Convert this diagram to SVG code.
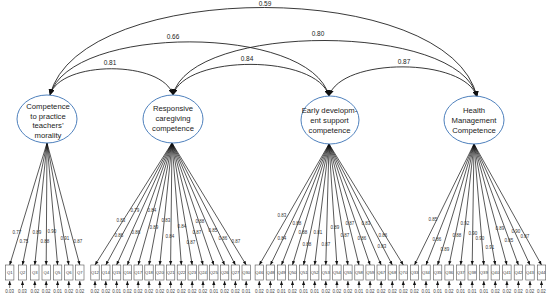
<svg xmlns="http://www.w3.org/2000/svg" width="550" height="298" viewBox="0 0 550 298">
<style>
.lat{fill:#fff;stroke:#4f81bd;stroke-width:1}
.lt{font-family:"Liberation Sans",Arial,sans-serif;font-size:7.7px;fill:#222;text-anchor:middle}
.cov{fill:none;stroke:#222;stroke-width:0.9}
.cl{font-family:"Liberation Sans",Arial,sans-serif;font-size:6.5px;fill:#222;text-anchor:middle}
.ld{stroke:#111;stroke-width:0.7;fill:none}
.ll{font-family:"Liberation Sans",Arial,sans-serif;font-size:4.5px;fill:#333;text-anchor:middle}
.bx{fill:#fff;stroke:#555;stroke-width:0.6}
.bl{font-family:"Liberation Sans",Arial,sans-serif;font-size:4.2px;fill:#333;text-anchor:middle}
.er{stroke:#111;stroke-width:0.6}
.el{font-family:"Liberation Sans",Arial,sans-serif;font-size:4.5px;fill:#444;text-anchor:middle}
</style>
<defs>
<marker id="ah" markerUnits="userSpaceOnUse" markerWidth="6" markerHeight="6" refX="5" refY="2.5" orient="auto-start-reverse" viewBox="0 0 5 5"><path d="M0,0 L5,2.5 L0,5 z" fill="#111"/></marker>
<marker id="sa" markerUnits="userSpaceOnUse" markerWidth="4" markerHeight="4" refX="4" refY="1.6" orient="auto" viewBox="0 0 4 3.2"><path d="M0,0 L4,1.6 L0,3.2 z" fill="#111"/></marker>
</defs>

<g id="connectors">
<g id="covariances">
<path class="cov" d="M50,95 C60,60 163,60 173,95" marker-start="url(#ah)" marker-end="url(#ah)"/>
<path class="cov" d="M50,95 C70,24 310,24 329,96" marker-start="url(#ah)" marker-end="url(#ah)"/>
<path class="cov" d="M50,95 C80,-22 450,-22 477,97" marker-start="url(#ah)" marker-end="url(#ah)"/>
<path class="cov" d="M173,95 C185,54 317,54 329,96" marker-start="url(#ah)" marker-end="url(#ah)"/>
<path class="cov" d="M173,95 C190,22 460,22 477,97" marker-start="url(#ah)" marker-end="url(#ah)"/>
<path class="cov" d="M329,96 C341,57 465,57 477,97" marker-start="url(#ah)" marker-end="url(#ah)"/>
</g>
<g id="loadings">
<line class="ld" x1="47" y1="143" x2="9.7" y2="265" marker-end="url(#sa)"/>
<line class="ld" x1="47" y1="143" x2="22.5" y2="265" marker-end="url(#sa)"/>
<line class="ld" x1="47" y1="143" x2="34.8" y2="265" marker-end="url(#sa)"/>
<line class="ld" x1="47" y1="143" x2="46.2" y2="265" marker-end="url(#sa)"/>
<line class="ld" x1="47" y1="143" x2="57.6" y2="265" marker-end="url(#sa)"/>
<line class="ld" x1="47" y1="143" x2="68.8" y2="265" marker-end="url(#sa)"/>
<line class="ld" x1="47" y1="143" x2="79.8" y2="265" marker-end="url(#sa)"/>
<line class="ld" x1="172" y1="143" x2="95" y2="265" marker-end="url(#sa)"/>
<line class="ld" x1="172" y1="143" x2="105.8" y2="265" marker-end="url(#sa)"/>
<line class="ld" x1="172" y1="143" x2="116.6" y2="265" marker-end="url(#sa)"/>
<line class="ld" x1="172" y1="143" x2="127.4" y2="265" marker-end="url(#sa)"/>
<line class="ld" x1="172" y1="143" x2="138.2" y2="265" marker-end="url(#sa)"/>
<line class="ld" x1="172" y1="143" x2="149" y2="265" marker-end="url(#sa)"/>
<line class="ld" x1="172" y1="143" x2="159.8" y2="265" marker-end="url(#sa)"/>
<line class="ld" x1="172" y1="143" x2="170.6" y2="265" marker-end="url(#sa)"/>
<line class="ld" x1="172" y1="143" x2="181.4" y2="265" marker-end="url(#sa)"/>
<line class="ld" x1="172" y1="143" x2="192.2" y2="265" marker-end="url(#sa)"/>
<line class="ld" x1="172" y1="143" x2="203" y2="265" marker-end="url(#sa)"/>
<line class="ld" x1="172" y1="143" x2="213.8" y2="265" marker-end="url(#sa)"/>
<line class="ld" x1="172" y1="143" x2="224.6" y2="265" marker-end="url(#sa)"/>
<line class="ld" x1="172" y1="143" x2="235.4" y2="265" marker-end="url(#sa)"/>
<line class="ld" x1="172" y1="143" x2="246.2" y2="265" marker-end="url(#sa)"/>
<line class="ld" x1="329" y1="144" x2="259.3" y2="265" marker-end="url(#sa)"/>
<line class="ld" x1="329" y1="144" x2="270.4" y2="265" marker-end="url(#sa)"/>
<line class="ld" x1="329" y1="144" x2="281.5" y2="265" marker-end="url(#sa)"/>
<line class="ld" x1="329" y1="144" x2="292.5" y2="265" marker-end="url(#sa)"/>
<line class="ld" x1="329" y1="144" x2="303.6" y2="265" marker-end="url(#sa)"/>
<line class="ld" x1="329" y1="144" x2="314.7" y2="265" marker-end="url(#sa)"/>
<line class="ld" x1="329" y1="144" x2="325.8" y2="265" marker-end="url(#sa)"/>
<line class="ld" x1="329" y1="144" x2="336.9" y2="265" marker-end="url(#sa)"/>
<line class="ld" x1="329" y1="144" x2="347.9" y2="265" marker-end="url(#sa)"/>
<line class="ld" x1="329" y1="144" x2="359" y2="265" marker-end="url(#sa)"/>
<line class="ld" x1="329" y1="144" x2="370.1" y2="265" marker-end="url(#sa)"/>
<line class="ld" x1="329" y1="144" x2="381.2" y2="265" marker-end="url(#sa)"/>
<line class="ld" x1="329" y1="144" x2="392.3" y2="265" marker-end="url(#sa)"/>
<line class="ld" x1="329" y1="144" x2="403.3" y2="265" marker-end="url(#sa)"/>
<line class="ld" x1="474" y1="144" x2="414.5" y2="265" marker-end="url(#sa)"/>
<line class="ld" x1="474" y1="144" x2="426" y2="265" marker-end="url(#sa)"/>
<line class="ld" x1="474" y1="144" x2="437.6" y2="265" marker-end="url(#sa)"/>
<line class="ld" x1="474" y1="144" x2="449.1" y2="265" marker-end="url(#sa)"/>
<line class="ld" x1="474" y1="144" x2="460.7" y2="265" marker-end="url(#sa)"/>
<line class="ld" x1="474" y1="144" x2="472.2" y2="265" marker-end="url(#sa)"/>
<line class="ld" x1="474" y1="144" x2="483.8" y2="265" marker-end="url(#sa)"/>
<line class="ld" x1="474" y1="144" x2="495.3" y2="265" marker-end="url(#sa)"/>
<line class="ld" x1="474" y1="144" x2="506.9" y2="265" marker-end="url(#sa)"/>
<line class="ld" x1="474" y1="144" x2="518.4" y2="265" marker-end="url(#sa)"/>
<line class="ld" x1="474" y1="144" x2="530" y2="265" marker-end="url(#sa)"/>
<line class="ld" x1="474" y1="144" x2="541.5" y2="265" marker-end="url(#sa)"/>
</g>
<g id="errors">
<line class="er" x1="9.7" y1="288" x2="9.7" y2="281" marker-end="url(#sa)"/>
<line class="er" x1="22.5" y1="288" x2="22.5" y2="281" marker-end="url(#sa)"/>
<line class="er" x1="34.8" y1="288" x2="34.8" y2="281" marker-end="url(#sa)"/>
<line class="er" x1="46.2" y1="288" x2="46.2" y2="281" marker-end="url(#sa)"/>
<line class="er" x1="57.6" y1="288" x2="57.6" y2="281" marker-end="url(#sa)"/>
<line class="er" x1="68.8" y1="288" x2="68.8" y2="281" marker-end="url(#sa)"/>
<line class="er" x1="79.8" y1="288" x2="79.8" y2="281" marker-end="url(#sa)"/>
<line class="er" x1="95" y1="288" x2="95" y2="281" marker-end="url(#sa)"/>
<line class="er" x1="105.8" y1="288" x2="105.8" y2="281" marker-end="url(#sa)"/>
<line class="er" x1="116.6" y1="288" x2="116.6" y2="281" marker-end="url(#sa)"/>
<line class="er" x1="127.4" y1="288" x2="127.4" y2="281" marker-end="url(#sa)"/>
<line class="er" x1="138.2" y1="288" x2="138.2" y2="281" marker-end="url(#sa)"/>
<line class="er" x1="149" y1="288" x2="149" y2="281" marker-end="url(#sa)"/>
<line class="er" x1="159.8" y1="288" x2="159.8" y2="281" marker-end="url(#sa)"/>
<line class="er" x1="170.6" y1="288" x2="170.6" y2="281" marker-end="url(#sa)"/>
<line class="er" x1="181.4" y1="288" x2="181.4" y2="281" marker-end="url(#sa)"/>
<line class="er" x1="192.2" y1="288" x2="192.2" y2="281" marker-end="url(#sa)"/>
<line class="er" x1="203" y1="288" x2="203" y2="281" marker-end="url(#sa)"/>
<line class="er" x1="213.8" y1="288" x2="213.8" y2="281" marker-end="url(#sa)"/>
<line class="er" x1="224.6" y1="288" x2="224.6" y2="281" marker-end="url(#sa)"/>
<line class="er" x1="235.4" y1="288" x2="235.4" y2="281" marker-end="url(#sa)"/>
<line class="er" x1="246.2" y1="288" x2="246.2" y2="281" marker-end="url(#sa)"/>
<line class="er" x1="259.3" y1="288" x2="259.3" y2="281" marker-end="url(#sa)"/>
<line class="er" x1="270.4" y1="288" x2="270.4" y2="281" marker-end="url(#sa)"/>
<line class="er" x1="281.5" y1="288" x2="281.5" y2="281" marker-end="url(#sa)"/>
<line class="er" x1="292.5" y1="288" x2="292.5" y2="281" marker-end="url(#sa)"/>
<line class="er" x1="303.6" y1="288" x2="303.6" y2="281" marker-end="url(#sa)"/>
<line class="er" x1="314.7" y1="288" x2="314.7" y2="281" marker-end="url(#sa)"/>
<line class="er" x1="325.8" y1="288" x2="325.8" y2="281" marker-end="url(#sa)"/>
<line class="er" x1="336.9" y1="288" x2="336.9" y2="281" marker-end="url(#sa)"/>
<line class="er" x1="347.9" y1="288" x2="347.9" y2="281" marker-end="url(#sa)"/>
<line class="er" x1="359" y1="288" x2="359" y2="281" marker-end="url(#sa)"/>
<line class="er" x1="370.1" y1="288" x2="370.1" y2="281" marker-end="url(#sa)"/>
<line class="er" x1="381.2" y1="288" x2="381.2" y2="281" marker-end="url(#sa)"/>
<line class="er" x1="392.3" y1="288" x2="392.3" y2="281" marker-end="url(#sa)"/>
<line class="er" x1="403.3" y1="288" x2="403.3" y2="281" marker-end="url(#sa)"/>
<line class="er" x1="414.5" y1="288" x2="414.5" y2="281" marker-end="url(#sa)"/>
<line class="er" x1="426" y1="288" x2="426" y2="281" marker-end="url(#sa)"/>
<line class="er" x1="437.6" y1="288" x2="437.6" y2="281" marker-end="url(#sa)"/>
<line class="er" x1="449.1" y1="288" x2="449.1" y2="281" marker-end="url(#sa)"/>
<line class="er" x1="460.7" y1="288" x2="460.7" y2="281" marker-end="url(#sa)"/>
<line class="er" x1="472.2" y1="288" x2="472.2" y2="281" marker-end="url(#sa)"/>
<line class="er" x1="483.8" y1="288" x2="483.8" y2="281" marker-end="url(#sa)"/>
<line class="er" x1="495.3" y1="288" x2="495.3" y2="281" marker-end="url(#sa)"/>
<line class="er" x1="506.9" y1="288" x2="506.9" y2="281" marker-end="url(#sa)"/>
<line class="er" x1="518.4" y1="288" x2="518.4" y2="281" marker-end="url(#sa)"/>
<line class="er" x1="530" y1="288" x2="530" y2="281" marker-end="url(#sa)"/>
<line class="er" x1="541.5" y1="288" x2="541.5" y2="281" marker-end="url(#sa)"/>
</g>
</g>

<g id="connector-labels">
<text class="cl" x="110" y="65">0.81</text>
<text class="cl" x="173" y="39">0.66</text>
<text class="cl" x="265" y="5.5">0.59</text>
<text class="cl" x="247" y="61">0.84</text>
<text class="cl" x="318" y="36">0.80</text>
<text class="cl" x="404" y="64">0.87</text>

<text class="ll" x="17" y="234">0.77</text>
<text class="ll" x="24" y="243">0.75</text>
<text class="ll" x="37" y="234">0.89</text>
<text class="ll" x="45" y="243">0.88</text>
<text class="ll" x="52" y="233">0.90</text>
<text class="ll" x="65" y="240">0.91</text>
<text class="ll" x="78" y="243">0.87</text>

<text class="ll" x="121" y="222">0.83</text>
<text class="ll" x="135" y="212">0.79</text>
<text class="ll" x="152" y="212">0.84</text>
<text class="ll" x="119" y="237">0.86</text>
<text class="ll" x="136" y="234">0.86</text>
<text class="ll" x="154" y="229">0.89</text>
<text class="ll" x="166" y="222">0.83</text>
<text class="ll" x="170" y="238">0.84</text>
<text class="ll" x="182" y="228">0.84</text>
<text class="ll" x="191" y="244">0.87</text>
<text class="ll" x="197" y="234">0.87</text>
<text class="ll" x="200" y="223">0.88</text>
<text class="ll" x="213" y="232">0.85</text>
<text class="ll" x="223" y="240">0.86</text>
<text class="ll" x="236" y="243">0.87</text>

<text class="ll" x="282" y="217">0.83</text>
<text class="ll" x="282" y="240">0.84</text>
<text class="ll" x="297" y="225">0.88</text>
<text class="ll" x="303" y="234">0.88</text>
<text class="ll" x="307" y="246">0.88</text>
<text class="ll" x="318" y="234">0.81</text>
<text class="ll" x="326" y="246">0.87</text>
<text class="ll" x="335" y="229">0.89</text>
<text class="ll" x="345" y="237">0.87</text>
<text class="ll" x="350" y="225">0.87</text>
<text class="ll" x="362" y="240">0.86</text>
<text class="ll" x="366" y="225">0.83</text>
<text class="ll" x="383" y="237">0.86</text>
<text class="ll" x="382" y="248">0.83</text>

<text class="ll" x="433" y="221">0.85</text>
<text class="ll" x="437" y="241">0.86</text>
<text class="ll" x="445" y="251">0.89</text>
<text class="ll" x="457" y="237">0.88</text>
<text class="ll" x="465" y="225">0.92</text>
<text class="ll" x="473" y="235">0.90</text>
<text class="ll" x="480" y="240">0.90</text>
<text class="ll" x="490" y="249">0.91</text>
<text class="ll" x="500" y="230">0.89</text>
<text class="ll" x="509" y="242">0.85</text>
<text class="ll" x="516" y="233">0.90</text>
<text class="ll" x="525" y="238">0.87</text>

<text class="el" x="9.7" y="293">0.03</text>
<text class="el" x="22.5" y="293">0.03</text>
<text class="el" x="34.8" y="293">0.02</text>
<text class="el" x="46.2" y="293">0.02</text>
<text class="el" x="57.6" y="293">0.01</text>
<text class="el" x="68.8" y="293">0.02</text>
<text class="el" x="79.8" y="293">0.02</text>
<text class="el" x="95" y="293">0.02</text>
<text class="el" x="105.8" y="293">0.02</text>
<text class="el" x="116.6" y="293">0.01</text>
<text class="el" x="127.4" y="293">0.02</text>
<text class="el" x="138.2" y="293">0.02</text>
<text class="el" x="149" y="293">0.02</text>
<text class="el" x="159.8" y="293">0.02</text>
<text class="el" x="170.6" y="293">0.02</text>
<text class="el" x="181.4" y="293">0.02</text>
<text class="el" x="192.2" y="293">0.02</text>
<text class="el" x="203" y="293">0.02</text>
<text class="el" x="213.8" y="293">0.01</text>
<text class="el" x="224.6" y="293">0.02</text>
<text class="el" x="235.4" y="293">0.02</text>
<text class="el" x="246.2" y="293">0.01</text>
<text class="el" x="259.3" y="293">0.02</text>
<text class="el" x="270.4" y="293">0.02</text>
<text class="el" x="281.5" y="293">0.01</text>
<text class="el" x="292.5" y="293">0.02</text>
<text class="el" x="303.6" y="293">0.01</text>
<text class="el" x="314.7" y="293">0.01</text>
<text class="el" x="325.8" y="293">0.02</text>
<text class="el" x="336.9" y="293">0.02</text>
<text class="el" x="347.9" y="293">0.02</text>
<text class="el" x="359" y="293">0.01</text>
<text class="el" x="370.1" y="293">0.02</text>
<text class="el" x="381.2" y="293">0.02</text>
<text class="el" x="392.3" y="293">0.02</text>
<text class="el" x="403.3" y="293">0.02</text>
<text class="el" x="414.5" y="293">0.02</text>
<text class="el" x="426" y="293">0.01</text>
<text class="el" x="437.6" y="293">0.01</text>
<text class="el" x="449.1" y="293">0.02</text>
<text class="el" x="460.7" y="293">0.01</text>
<text class="el" x="472.2" y="293">0.01</text>
<text class="el" x="483.8" y="293">0.01</text>
<text class="el" x="495.3" y="293">0.02</text>
<text class="el" x="506.9" y="293">0.02</text>
<text class="el" x="518.4" y="293">0.02</text>
<text class="el" x="530" y="293">0.02</text>
<text class="el" x="541.5" y="293">0.02</text>
</g>

<g id="latent-morality">
<ellipse class="lat" cx="47" cy="119" rx="30" ry="24"/>
<text class="lt" x="48" y="109">Competence</text>
<text class="lt" x="48" y="118.7">to practice</text>
<text class="lt" x="48" y="128.2">teachers’</text>
<text class="lt" x="48" y="137.8">morality</text>
</g>
<g id="latent-responsive">
<ellipse class="lat" cx="173" cy="119" rx="30" ry="24"/>
<text class="lt" x="173" y="111">Responsive</text>
<text class="lt" x="173" y="121">caregiving</text>
<text class="lt" x="173" y="131">competence</text>
</g>
<g id="latent-early">
<ellipse class="lat" cx="330" cy="120" rx="29" ry="24"/>
<text class="lt" x="329.5" y="113">Early developm-</text>
<text class="lt" x="329.5" y="123">ent support</text>
<text class="lt" x="329.5" y="133">competence</text>
</g>
<g id="latent-health">
<ellipse class="lat" cx="474" cy="120" rx="30" ry="24"/>
<text class="lt" x="474" y="113">Health</text>
<text class="lt" x="474" y="123">Management</text>
<text class="lt" x="474" y="133">Competence</text>
</g>

<g id="indicators">
<g id="Q1"><rect class="bx" x="5.5" y="265" width="8.4" height="15"/><text class="bl" x="9.7" y="274">Q1</text></g>
<g id="Q2"><rect class="bx" x="18.3" y="265" width="8.4" height="15"/><text class="bl" x="22.5" y="274">Q2</text></g>
<g id="Q3"><rect class="bx" x="30.6" y="265" width="8.4" height="15"/><text class="bl" x="34.8" y="274">Q3</text></g>
<g id="Q4"><rect class="bx" x="42" y="265" width="8.4" height="15"/><text class="bl" x="46.2" y="274">Q4</text></g>
<g id="Q5"><rect class="bx" x="53.4" y="265" width="8.4" height="15"/><text class="bl" x="57.6" y="274">Q5</text></g>
<g id="Q6"><rect class="bx" x="64.6" y="265" width="8.4" height="15"/><text class="bl" x="68.8" y="274">Q6</text></g>
<g id="Q7"><rect class="bx" x="75.6" y="265" width="8.4" height="15"/><text class="bl" x="79.8" y="274">Q7</text></g>
<g id="Q12"><rect class="bx" x="90.8" y="265" width="8.4" height="15"/><text class="bl" x="95" y="274">Q12</text></g>
<g id="Q14"><rect class="bx" x="101.6" y="265" width="8.4" height="15"/><text class="bl" x="105.8" y="274">Q14</text></g>
<g id="Q15"><rect class="bx" x="112.4" y="265" width="8.4" height="15"/><text class="bl" x="116.6" y="274">Q15</text></g>
<g id="Q16"><rect class="bx" x="123.2" y="265" width="8.4" height="15"/><text class="bl" x="127.4" y="274">Q16</text></g>
<g id="Q17"><rect class="bx" x="134" y="265" width="8.4" height="15"/><text class="bl" x="138.2" y="274">Q17</text></g>
<g id="Q18"><rect class="bx" x="144.8" y="265" width="8.4" height="15"/><text class="bl" x="149" y="274">Q18</text></g>
<g id="Q20"><rect class="bx" x="155.6" y="265" width="8.4" height="15"/><text class="bl" x="159.8" y="274">Q20</text></g>
<g id="Q21"><rect class="bx" x="166.4" y="265" width="8.4" height="15"/><text class="bl" x="170.6" y="274">Q21</text></g>
<g id="Q22"><rect class="bx" x="177.2" y="265" width="8.4" height="15"/><text class="bl" x="181.4" y="274">Q22</text></g>
<g id="Q23"><rect class="bx" x="188" y="265" width="8.4" height="15"/><text class="bl" x="192.2" y="274">Q23</text></g>
<g id="Q24"><rect class="bx" x="198.8" y="265" width="8.4" height="15"/><text class="bl" x="203" y="274">Q24</text></g>
<g id="Q25"><rect class="bx" x="209.6" y="265" width="8.4" height="15"/><text class="bl" x="213.8" y="274">Q25</text></g>
<g id="Q26"><rect class="bx" x="220.4" y="265" width="8.4" height="15"/><text class="bl" x="224.6" y="274">Q26</text></g>
<g id="Q27"><rect class="bx" x="231.2" y="265" width="8.4" height="15"/><text class="bl" x="235.4" y="274">Q27</text></g>
<g id="Q30"><rect class="bx" x="242" y="265" width="8.4" height="15"/><text class="bl" x="246.2" y="274">Q30</text></g>
<g id="Q46"><rect class="bx" x="255.1" y="265" width="8.4" height="15"/><text class="bl" x="259.3" y="274">Q46</text></g>
<g id="Q48"><rect class="bx" x="266.2" y="265" width="8.4" height="15"/><text class="bl" x="270.4" y="274">Q48</text></g>
<g id="Q49"><rect class="bx" x="277.3" y="265" width="8.4" height="15"/><text class="bl" x="281.5" y="274">Q49</text></g>
<g id="Q50"><rect class="bx" x="288.3" y="265" width="8.4" height="15"/><text class="bl" x="292.5" y="274">Q50</text></g>
<g id="Q51"><rect class="bx" x="299.4" y="265" width="8.4" height="15"/><text class="bl" x="303.6" y="274">Q51</text></g>
<g id="Q52"><rect class="bx" x="310.5" y="265" width="8.4" height="15"/><text class="bl" x="314.7" y="274">Q52</text></g>
<g id="Q53"><rect class="bx" x="321.6" y="265" width="8.4" height="15"/><text class="bl" x="325.8" y="274">Q53</text></g>
<g id="Q54"><rect class="bx" x="332.7" y="265" width="8.4" height="15"/><text class="bl" x="336.9" y="274">Q54</text></g>
<g id="Q55"><rect class="bx" x="343.7" y="265" width="8.4" height="15"/><text class="bl" x="347.9" y="274">Q55</text></g>
<g id="Q58"><rect class="bx" x="354.8" y="265" width="8.4" height="15"/><text class="bl" x="359" y="274">Q58</text></g>
<g id="Q59"><rect class="bx" x="365.9" y="265" width="8.4" height="15"/><text class="bl" x="370.1" y="274">Q59</text></g>
<g id="Q67"><rect class="bx" x="377" y="265" width="8.4" height="15"/><text class="bl" x="381.2" y="274">Q67</text></g>
<g id="Q68"><rect class="bx" x="388.1" y="265" width="8.4" height="15"/><text class="bl" x="392.3" y="274">Q68</text></g>
<g id="Q70"><rect class="bx" x="399.1" y="265" width="8.4" height="15"/><text class="bl" x="403.3" y="274">Q70</text></g>
<g id="Q33"><rect class="bx" x="410.3" y="265" width="8.4" height="15"/><text class="bl" x="414.5" y="274">Q33</text></g>
<g id="Q34"><rect class="bx" x="421.8" y="265" width="8.4" height="15"/><text class="bl" x="426" y="274">Q34</text></g>
<g id="Q35"><rect class="bx" x="433.4" y="265" width="8.4" height="15"/><text class="bl" x="437.6" y="274">Q35</text></g>
<g id="Q36"><rect class="bx" x="444.9" y="265" width="8.4" height="15"/><text class="bl" x="449.1" y="274">Q36</text></g>
<g id="Q37"><rect class="bx" x="456.5" y="265" width="8.4" height="15"/><text class="bl" x="460.7" y="274">Q37</text></g>
<g id="Q38"><rect class="bx" x="468" y="265" width="8.4" height="15"/><text class="bl" x="472.2" y="274">Q38</text></g>
<g id="Q39"><rect class="bx" x="479.6" y="265" width="8.4" height="15"/><text class="bl" x="483.8" y="274">Q39</text></g>
<g id="Q40"><rect class="bx" x="491.1" y="265" width="8.4" height="15"/><text class="bl" x="495.3" y="274">Q40</text></g>
<g id="Q41"><rect class="bx" x="502.7" y="265" width="8.4" height="15"/><text class="bl" x="506.9" y="274">Q41</text></g>
<g id="Q42"><rect class="bx" x="514.2" y="265" width="8.4" height="15"/><text class="bl" x="518.4" y="274">Q42</text></g>
<g id="Q43"><rect class="bx" x="525.8" y="265" width="8.4" height="15"/><text class="bl" x="530" y="274">Q43</text></g>
<g id="Q44"><rect class="bx" x="537.3" y="265" width="8.4" height="15"/><text class="bl" x="541.5" y="274">Q44</text></g>
</g>
</svg>
